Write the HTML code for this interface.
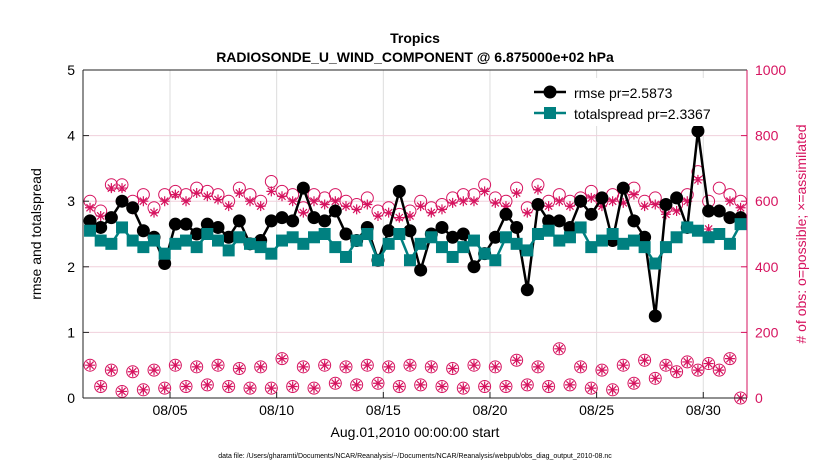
<!DOCTYPE html>
<html><head><meta charset="utf-8"><style>
body{margin:0;background:#fff;font-family:"Liberation Sans",sans-serif}
</style></head><body>
<svg id="c" width="830" height="470" xmlns="http://www.w3.org/2000/svg" font-family="Liberation Sans, sans-serif">
<text x="415" y="43" text-anchor="middle" font-size="14" font-weight="bold">Tropics</text>
<text x="415" y="62" text-anchor="middle" font-size="14" font-weight="bold">RADIOSONDE_U_WIND_COMPONENT @ 6.875000e+02 hPa</text>
<g id="grid"></g><g id="marks"></g><g id="axes"></g>
<text x="415" y="437" text-anchor="middle" font-size="14">Aug.01,2010 00:00:00 start</text>
<text transform="translate(41,234) rotate(-90)" text-anchor="middle" font-size="14">rmse and totalspread</text>
<text transform="translate(806,234) rotate(-90)" text-anchor="middle" font-size="14" fill="#d6135f"># of obs: o=possible; ×=assimilated</text>
<text x="415" y="458" text-anchor="middle" font-size="7">data file: /Users/gharamti/Documents/NCAR/Reanalysis/~/Documents/NCAR/Reanalysis/webpub/obs_diag_output_2010-08.nc</text>
<g id="legend">
<rect x="527" y="78" width="213" height="48" fill="#fff"/>
<line x1="534" y1="92" x2="566" y2="92" stroke="#000" stroke-width="2.5"/><circle cx="550" cy="92" r="6.5" fill="#000"/>
<text x="574" y="98" font-size="14">rmse pr=2.5873</text>
<line x1="534" y1="113" x2="566" y2="113" stroke="#008080" stroke-width="2.5"/><rect x="544" y="107" width="12" height="12" fill="#008080"/>
<text x="574" y="119" font-size="14">totalspread pr=2.3367</text>
</g>
</svg>
<script>
const rmse=[2.7,2.6,2.75,3.0,2.9,2.55,2.45,2.05,2.65,2.65,2.5,2.65,2.6,2.45,2.7,2.35,2.4,2.7,2.75,2.7,3.2,2.75,2.7,2.85,2.5,2.4,2.6,2.1,2.55,3.15,2.55,1.95,2.5,2.6,2.45,2.5,2.0,2.2,2.45,2.8,2.6,1.65,2.95,2.7,2.7,2.6,3.0,2.8,3.05,2.4,3.2,2.7,2.45,1.25,2.95,3.05,2.6,4.07,2.85,2.85,2.75,2.75];
const spread=[2.55,2.4,2.35,2.6,2.4,2.3,2.4,2.2,2.35,2.4,2.3,2.5,2.4,2.25,2.45,2.35,2.3,2.2,2.4,2.45,2.35,2.45,2.5,2.3,2.15,2.4,2.5,2.1,2.35,2.5,2.1,2.35,2.45,2.3,2.15,2.3,2.4,2.2,2.1,2.45,2.35,2.25,2.5,2.55,2.4,2.45,2.6,2.3,2.4,2.5,2.35,2.4,2.3,2.05,2.3,2.45,2.6,2.55,2.45,2.5,2.35,2.65];
const possTop=[600,570,650,650,600,620,580,620,630,620,640,630,620,600,640,620,600,660,630,620,580,620,610,620,600,590,610,570,580,560,570,600,580,590,610,620,620,650,610,600,640,580,650,600,620,600,610,630,600,620,610,640,600,610,580,590,620,690,600,640,620,600];
const assimTop=[580,555,640,640,575,600,565,600,620,600,625,615,605,585,625,600,585,630,615,600,565,600,590,600,585,575,590,555,565,550,555,585,565,575,595,600,600,630,595,585,625,565,635,585,600,585,595,610,585,600,595,620,585,590,560,570,600,665,515,575,600,580];
const possBot=[100,35,85,20,80,25,85,30,100,35,95,40,100,35,90,30,95,30,120,35,95,30,100,45,95,40,100,45,95,35,100,40,95,35,90,30,100,35,95,35,115,40,95,35,150,40,95,30,85,25,100,45,115,60,100,80,110,85,105,85,120,0];
const days=rmse.map((_,i)=>0.25+0.5*i);
const xTickDays=[4,9,14,19,24,29];
const xTickLabels=['08/05','08/10','08/15','08/20','08/25','08/30'];
const yTicks=[0,1,2,3,4,5];
const y2Ticks=[0,200,400,600,800,1000];
const L=83,R=747,T=70,B=398;
const X=d=>84.7+d*21.33;
const Y=v=>B-(v/5)*(B-T);
const Y2=n=>B-(n/1000)*(B-T);
const NS='http://www.w3.org/2000/svg';
function mk(tag,attrs,parent){const e=document.createElementNS(NS,tag);for(const k in attrs)e.setAttribute(k,attrs[k]);parent.appendChild(e);return e;}
const grid=document.getElementById('grid'),marks=document.getElementById('marks'),axes=document.getElementById('axes');
mk('rect',{x:L,y:T,width:R-L,height:B-T,fill:'#fff'},grid);
xTickDays.forEach((d,i)=>{
 const g=mk('line',{x1:X(d),x2:X(d),y1:T,y2:B,stroke:'#ddd','stroke-width':1},grid);
 
 
 const t=mk('text',{x:X(d),y:B+17,'text-anchor':'middle','font-size':14},axes);t.textContent=xTickLabels[i];
 
 
 mk('line',{x1:X(d),x2:X(d),y1:B,y2:B-6,stroke:'#222'},axes);
});
y2Ticks.forEach(n=>{
 const g=mk('line',{x1:L,x2:R,y1:Y2(n),y2:Y2(n),stroke:'#f0d0dc','stroke-width':1},grid);
 
 
 const t=mk('text',{x:R+8,y:Y2(n)+5,'font-size':14,fill:'#d6135f'},axes);t.textContent=n;
 
 
 mk('line',{x1:R,x2:R-6,y1:Y2(n),y2:Y2(n),stroke:'#d6135f'},axes);
});
yTicks.forEach(v=>{
 const t=mk('text',{x:L-8,y:Y(v)+5,'text-anchor':'end','font-size':14},axes);t.textContent=v;
 
 
 mk('line',{x1:L,x2:L+6,y1:Y(v),y2:Y(v),stroke:'#222'},axes);
});
mk('line',{x1:L,x2:L,y1:T,y2:B,stroke:'#222'},axes);
mk('line',{x1:L,x2:R,y1:B,y2:B,stroke:'#222'},axes);
mk('line',{x1:L,x2:R,y1:T,y2:T,stroke:'#222'},axes);
mk('line',{x1:R,x2:R,y1:T,y2:B,stroke:'#d6135f'},axes);
const pink='#d6135f';
function obsMarker(x,yp,ya,name){
 const g=mk('g',{},marks);
 
 
 mk('circle',{cx:x,cy:yp,r:6,fill:'none',stroke:pink,'stroke-width':1},g);
 const s=5;
 mk('path',{d:`M${x-s} ${ya}H${x+s}M${x} ${ya-s}V${ya+s}M${x-3.6} ${ya-3.6}L${x+3.6} ${ya+3.6}M${x-3.6} ${ya+3.6}L${x+3.6} ${ya-3.6}`,stroke:pink,'stroke-width':1.2,fill:'none'},g);
}
days.forEach((d,i)=>{
 obsMarker(X(d),Y2(possTop[i]),Y2(assimTop[i]),'obs-count-upper');
 obsMarker(X(d),Y2(possBot[i]),Y2(possBot[i]),'obs-count-lower');
});
const rl=mk('polyline',{points:days.map((d,i)=>X(d)+','+Y(rmse[i])).join(' '),fill:'none',stroke:'#000','stroke-width':2.5},marks);


days.forEach((d,i)=>{const c=mk('circle',{cx:X(d),cy:Y(rmse[i]),r:6.5,fill:'#000'},marks);
 
 });
const sl=mk('polyline',{points:days.map((d,i)=>X(d)+','+Y(spread[i])).join(' '),fill:'none',stroke:'#008080','stroke-width':2.5},marks);


days.forEach((d,i)=>{const r=mk('rect',{x:X(d)-6,y:Y(spread[i])-6,width:12,height:12,fill:'#008080'},marks);
 
 });
document.getElementById('c').appendChild(document.getElementById('legend'));
</script>
</body></html>
